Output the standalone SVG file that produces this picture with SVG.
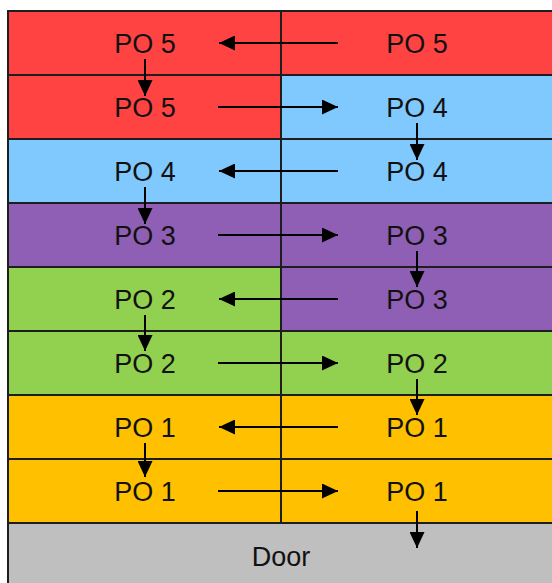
<svg xmlns="http://www.w3.org/2000/svg" width="552" height="583" viewBox="0 0 552 583">
<style>
.cell{stroke:#1e1e1e;stroke-width:2}
.red{fill:#FF4343}
.blue{fill:#80C9FF}
.purple{fill:#8E5FB4}
.green{fill:#92D050}
.yellow{fill:#FFC000}
.gray{fill:#BFBFBF}
text{font-family:"Liberation Sans",Arial,sans-serif;font-size:27px;fill:#111;text-anchor:middle}
.conn line{stroke:#000;stroke-width:2;marker-end:url(#ah)}
</style>
<defs>
<marker id="ah" markerUnits="userSpaceOnUse" markerWidth="17" markerHeight="15" refX="16" refY="7.5" orient="auto">
<path d="M0,0 L16,7.5 L0,15 Z" fill="#000"/>
</marker>
</defs>
<rect width="552" height="583" fill="#fff"/>
<g id="door"><rect class="cell gray" x="8" y="523" width="560" height="70"/><text x="281" y="566">Door</text></g>
<g id="r0l"><rect class="cell red" x="8" y="11" width="273" height="64"/><text x="145" y="53">PO 5</text></g>
<g id="r0r"><rect class="cell red" x="281" y="11" width="290" height="64"/><text x="417" y="53">PO 5</text></g>
<g id="r1l"><rect class="cell red" x="8" y="75" width="273" height="64"/><text x="145" y="117">PO 5</text></g>
<g id="r1r"><rect class="cell blue" x="281" y="75" width="290" height="64"/><text x="417" y="117">PO 4</text></g>
<g id="r2l"><rect class="cell blue" x="8" y="139" width="273" height="64"/><text x="145" y="181">PO 4</text></g>
<g id="r2r"><rect class="cell blue" x="281" y="139" width="290" height="64"/><text x="417" y="181">PO 4</text></g>
<g id="r3l"><rect class="cell purple" x="8" y="203" width="273" height="64"/><text x="145" y="245">PO 3</text></g>
<g id="r3r"><rect class="cell purple" x="281" y="203" width="290" height="64"/><text x="417" y="245">PO 3</text></g>
<g id="r4l"><rect class="cell green" x="8" y="267" width="273" height="64"/><text x="145" y="309">PO 2</text></g>
<g id="r4r"><rect class="cell purple" x="281" y="267" width="290" height="64"/><text x="417" y="309">PO 3</text></g>
<g id="r5l"><rect class="cell green" x="8" y="331" width="273" height="64"/><text x="145" y="373">PO 2</text></g>
<g id="r5r"><rect class="cell green" x="281" y="331" width="290" height="64"/><text x="417" y="373">PO 2</text></g>
<g id="r6l"><rect class="cell yellow" x="8" y="395" width="273" height="64"/><text x="145" y="437">PO 1</text></g>
<g id="r6r"><rect class="cell yellow" x="281" y="395" width="290" height="64"/><text x="417" y="437">PO 1</text></g>
<g id="r7l"><rect class="cell yellow" x="8" y="459" width="273" height="64"/><text x="145" y="501">PO 1</text></g>
<g id="r7r"><rect class="cell yellow" x="281" y="459" width="290" height="64"/><text x="417" y="501">PO 1</text></g>
<g class="conn" id="connectors">
<line x1="338" y1="43" x2="219" y2="43"/>
<line x1="218" y1="107" x2="338" y2="107"/>
<line x1="338" y1="171" x2="219" y2="171"/>
<line x1="218" y1="235" x2="338" y2="235"/>
<line x1="338" y1="299" x2="219" y2="299"/>
<line x1="218" y1="363" x2="338" y2="363"/>
<line x1="338" y1="427" x2="219" y2="427"/>
<line x1="218" y1="491" x2="338" y2="491"/>
<line x1="145" y1="59" x2="145" y2="96"/>
<line x1="417" y1="123" x2="417" y2="160"/>
<line x1="145" y1="187" x2="145" y2="224"/>
<line x1="417" y1="251" x2="417" y2="287"/>
<line x1="145" y1="315" x2="145" y2="351"/>
<line x1="417" y1="379" x2="417" y2="415"/>
<line x1="145" y1="443" x2="145" y2="477"/>
<line x1="417" y1="511" x2="417" y2="548"/>
</g>
</svg>
